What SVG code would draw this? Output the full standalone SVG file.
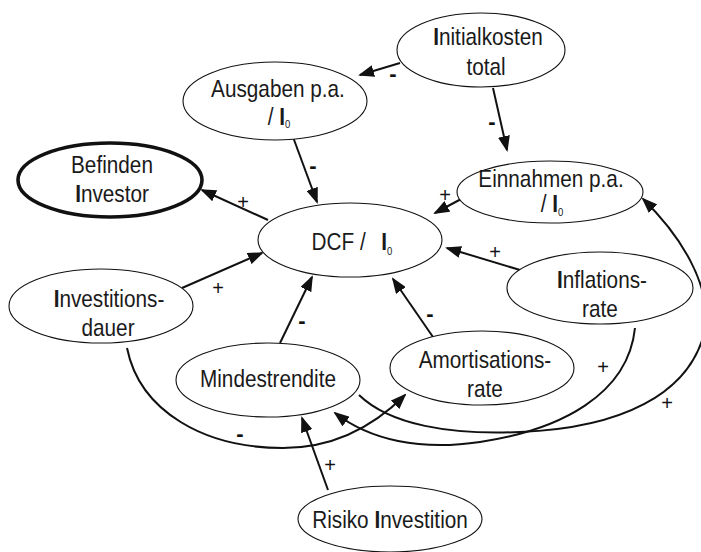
<svg xmlns="http://www.w3.org/2000/svg" width="701" height="552" viewBox="0 0 701 552">
  <defs>
    <marker id="arrow" markerUnits="userSpaceOnUse" markerWidth="16" markerHeight="12" refX="14" refY="6" orient="auto">
      <path d="M0,0 L16,6 L0,12 z" fill="#111"/>
    </marker>
    <style>
      .node ellipse { fill: #fff; stroke: #111; stroke-width: 1.1; }
      .node.bold ellipse { stroke-width: 3.6; }
      .t { font-family: "Liberation Sans", Arial, sans-serif; font-size: 24px; fill: #1a1a1a; text-anchor: middle;
           transform-box: fill-box; transform-origin: center; transform: scaleX(0.865); }
      .cap { font-weight: bold; }
      .sub { font-size: 11px; }
      .edge { fill: none; stroke: #111; stroke-width: 2; marker-end: url(#arrow); }
      .sign { font-family: "Liberation Sans", Arial, sans-serif; font-size: 20px; fill: #111; text-anchor: middle; }
      .minus { font-weight: bold; font-size: 22px; }
    </style>
  </defs>

  <rect width="701" height="552" fill="#fff"/>

  <!-- connectors with their polarity signs -->
  <g id="connectors">
    <path class="edge" d="M400,63 L360,75"/>
    <path class="edge" d="M493,88 L507,150"/>
    <path class="edge" d="M293,137 L317,202"/>
    <path class="edge" d="M268,220 L202,190"/>
    <path class="edge" d="M463,198 L435,213"/>
    <path class="edge" d="M520,270 L447,248"/>
    <path class="edge" d="M182,288 L262,253"/>
    <path class="edge" d="M280,343 L312,277"/>
    <path class="edge" d="M433,337 L393,279"/>
    <path class="edge" d="M328,490 L302,418"/>
    <!-- Investitionsdauer -> Amortisationsrate -->
    <path class="edge" d="M127,348 C140,412 205,448 283,448 C340,448 380,420 405,395"/>
    <!-- Inflationsrate -> Mindestrendite -->
    <path class="edge" d="M635,328 C628,395 560,430 480,442 C420,451 370,440 335,413"/>
    <!-- Mindestrendite -> Einnahmen p.a. -->
    <path class="edge" d="M359,395 C390,425 450,435 520,432 C620,428 690,395 705,330 C712,285 680,235 643,199"/>

    <text class="sign minus" x="393" y="81">-</text>
    <text class="sign minus" x="492" y="129">-</text>
    <text class="sign minus" x="313" y="173">-</text>
    <text class="sign" x="243" y="209">+</text>
    <text class="sign" x="445" y="202">+</text>
    <text class="sign" x="495" y="259">+</text>
    <text class="sign" x="218" y="295">+</text>
    <text class="sign minus" x="302" y="328">-</text>
    <text class="sign minus" x="430" y="321">-</text>
    <text class="sign" x="330" y="472">+</text>
    <text class="sign minus" x="240" y="441">-</text>
    <text class="sign" x="603" y="374">+</text>
    <text class="sign" x="667" y="410">+</text>
  </g>

  <g id="initialkosten" class="node">
    <ellipse cx="481" cy="50" rx="84" ry="37"/>
    <text class="t" x="488" y="45"><tspan class="cap">I</tspan>nitialkosten</text>
    <text class="t" x="486" y="75">total</text>
  </g>

  <g id="ausgaben" class="node">
    <ellipse cx="275" cy="101" rx="92" ry="39"/>
    <text class="t" x="278" y="97">Ausgaben p.a.</text>
    <text class="t" x="279" y="125">/ <tspan class="cap">I</tspan><tspan class="sub" dy="3">0</tspan></text>
  </g>

  <g id="befinden" class="node bold">
    <ellipse cx="110" cy="180" rx="92" ry="37"/>
    <text class="t" x="112" y="173">Befinden</text>
    <text class="t" x="112" y="202"><tspan class="cap">I</tspan>nvestor</text>
  </g>

  <g id="dcf" class="node">
    <ellipse cx="350" cy="240" rx="92" ry="37"/>
    <text class="t" x="352" y="250">DCF /<tspan class="cap" dx="18">I</tspan><tspan class="sub" dy="5">0</tspan></text>
  </g>

  <g id="einnahmen" class="node">
    <ellipse cx="550" cy="192" rx="93" ry="31"/>
    <text class="t" x="551" y="187">Einnahmen p.a.</text>
    <text class="t" x="552" y="212">/ <tspan class="cap">I</tspan><tspan class="sub" dy="4">0</tspan></text>
  </g>

  <g id="inflationsrate" class="node">
    <ellipse cx="600" cy="288" rx="93" ry="36"/>
    <text class="t" x="602" y="288"><tspan class="cap">I</tspan>nflations-</text>
    <text class="t" x="600" y="317">rate</text>
  </g>

  <g id="investitionsdauer" class="node">
    <ellipse cx="101" cy="306" rx="92" ry="37"/>
    <text class="t" x="109" y="307"><tspan class="cap">I</tspan>nvestitions-</text>
    <text class="t" x="108" y="336">dauer</text>
  </g>

  <g id="mindestrendite" class="node">
    <ellipse cx="268" cy="380" rx="92" ry="37"/>
    <text class="t" x="268" y="387">Mindestrendite</text>
  </g>

  <g id="amortisationsrate" class="node">
    <ellipse cx="482" cy="368" rx="92" ry="37"/>
    <text class="t" x="485" y="368">Amortisations-</text>
    <text class="t" x="485" y="397">rate</text>
  </g>

  <g id="risiko" class="node">
    <ellipse cx="390" cy="519" rx="92" ry="33"/>
    <text class="t" x="390" y="528">Risiko <tspan class="cap">I</tspan>nvestition</text>
  </g>
</svg>
